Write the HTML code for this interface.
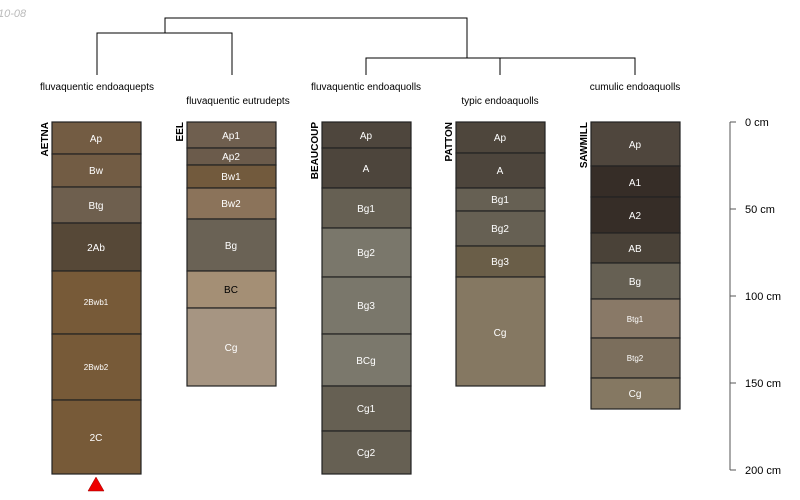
<!DOCTYPE html>
<html><head><meta charset="utf-8"><style>
html,body{margin:0;padding:0;background:#fff;width:800px;height:500px;overflow:hidden}
svg{display:block;font-family:"Liberation Sans",sans-serif}
</style></head><body>
<svg width="800" height="500" viewBox="0 0 800 500" xmlns="http://www.w3.org/2000/svg">
<text x="-2" y="17" font-size="11" fill="#bbb" font-style="italic">10-08</text>
<g stroke="#000" stroke-width="1" fill="none">
<polyline points="165,33 165,18 467,18 467,58"/>
<polyline points="97,75 97,33 232,33 232,75"/>
<polyline points="366,75 366,58 635,58 635,75"/>
<line x1="500" y1="58" x2="500" y2="75"/>
</g>
<g font-size="10" fill="#000">
<text x="97" y="90" text-anchor="middle">fluvaquentic endoaquepts</text>
<text x="238" y="104" text-anchor="middle">fluvaquentic eutrudepts</text>
<text x="366" y="90" text-anchor="middle">fluvaquentic endoaquolls</text>
<text x="500" y="104" text-anchor="middle">typic endoaquolls</text>
<text x="635" y="90" text-anchor="middle">cumulic endoaquolls</text>
</g>
<g font-size="10" font-weight="bold" fill="#000">
<text transform="translate(48,122) rotate(-90)" text-anchor="end">AETNA</text>
<text transform="translate(183,122) rotate(-90)" text-anchor="end">EEL</text>
<text transform="translate(318,122) rotate(-90)" text-anchor="end">BEAUCOUP</text>
<text transform="translate(452,122) rotate(-90)" text-anchor="end">PATTON</text>
<text transform="translate(587,122) rotate(-90)" text-anchor="end">SAWMILL</text>
</g>
<g stroke="#222" stroke-width="1.2" font-size="10" text-anchor="middle">
<!-- AETNA x52 w89 -->
<rect x="52" y="122" width="89" height="32" fill="#735c43"/>
<rect x="52" y="154" width="89" height="33" fill="#725c44"/>
<rect x="52" y="187" width="89" height="36" fill="#6e5f4e"/>
<rect x="52" y="223" width="89" height="48" fill="#564837"/>
<rect x="52" y="271" width="89" height="63" fill="#775a38"/>
<rect x="52" y="334" width="89" height="66" fill="#775a38"/>
<rect x="52" y="400" width="89" height="74" fill="#775a38"/>
<!-- EEL -->
<rect x="187" y="122" width="89" height="26" fill="#6f5f4f"/>
<rect x="187" y="148" width="89" height="17" fill="#6b5b4b"/>
<rect x="187" y="165" width="89" height="23" fill="#725a3d"/>
<rect x="187" y="188" width="89" height="31" fill="#8b735a"/>
<rect x="187" y="219" width="89" height="52" fill="#6a6255"/>
<rect x="187" y="271" width="89" height="37" fill="#a48f75"/>
<rect x="187" y="308" width="89" height="78" fill="#a69582"/>
<!-- BEAUCOUP -->
<rect x="322" y="122" width="89" height="26" fill="#4e463d"/>
<rect x="322" y="148" width="89" height="40" fill="#4d453c"/>
<rect x="322" y="188" width="89" height="40" fill="#666053"/>
<rect x="322" y="228" width="89" height="49" fill="#7a776b"/>
<rect x="322" y="277" width="89" height="57" fill="#7a776b"/>
<rect x="322" y="334" width="89" height="52" fill="#7b786c"/>
<rect x="322" y="386" width="89" height="45" fill="#666053"/>
<rect x="322" y="431" width="89" height="43" fill="#666053"/>
<!-- PATTON -->
<rect x="456" y="122" width="89" height="31" fill="#4e463c"/>
<rect x="456" y="153" width="89" height="35" fill="#4d453c"/>
<rect x="456" y="188" width="89" height="23" fill="#666053"/>
<rect x="456" y="211" width="89" height="35" fill="#666053"/>
<rect x="456" y="246" width="89" height="31" fill="#6a5e48"/>
<rect x="456" y="277" width="89" height="109" fill="#857862"/>
<!-- SAWMILL -->
<rect x="591" y="122" width="89" height="44" fill="#4f463d"/>
<rect x="591" y="166" width="89" height="31" fill="#362d27"/>
<rect x="591" y="197" width="89" height="36" fill="#362d27"/>
<rect x="591" y="233" width="89" height="30" fill="#4a4238"/>
<rect x="591" y="263" width="89" height="36" fill="#666053"/>
<rect x="591" y="299" width="89" height="39" fill="#897967"/>
<rect x="591" y="338" width="89" height="40" fill="#7b6e5c"/>
<rect x="591" y="378" width="89" height="31" fill="#857862"/>
</g>
<g font-size="10" text-anchor="middle" fill="#fff">
<text x="96" y="142">Ap</text><text x="96" y="174">Bw</text><text x="96" y="209">Btg</text><text x="96" y="251">2Ab</text>
<text x="96" y="305" font-size="8">2Bwb1</text><text x="96" y="370" font-size="8">2Bwb2</text><text x="96" y="441">2C</text>
<text x="231" y="139">Ap1</text><text x="231" y="160">Ap2</text><text x="231" y="180">Bw1</text><text x="231" y="207">Bw2</text>
<text x="231" y="249">Bg</text><text x="231" y="293" fill="#000">BC</text><text x="231" y="351">Cg</text>
<text x="366" y="139">Ap</text><text x="366" y="172">A</text><text x="366" y="212">Bg1</text><text x="366" y="256">Bg2</text>
<text x="366" y="309">Bg3</text><text x="366" y="364">BCg</text><text x="366" y="412">Cg1</text><text x="366" y="456">Cg2</text>
<text x="500" y="141">Ap</text><text x="500" y="174">A</text><text x="500" y="203">Bg1</text><text x="500" y="232">Bg2</text>
<text x="500" y="265">Bg3</text><text x="500" y="336">Cg</text>
<text x="635" y="148">Ap</text><text x="635" y="186">A1</text><text x="635" y="219">A2</text><text x="635" y="252">AB</text>
<text x="635" y="285">Bg</text><text x="635" y="322" font-size="8">Btg1</text><text x="635" y="361" font-size="8">Btg2</text><text x="635" y="397">Cg</text>
</g>
<polygon points="96,477 88,491 104,491" fill="#e00" stroke="#900" stroke-width="0.5"/>
<g stroke="#555" stroke-width="1">
<line x1="730" y1="122" x2="730" y2="470"/>
<line x1="730" y1="122" x2="736" y2="122"/><line x1="730" y1="209" x2="736" y2="209"/>
<line x1="730" y1="296" x2="736" y2="296"/><line x1="730" y1="383" x2="736" y2="383"/>
<line x1="730" y1="470" x2="736" y2="470"/>
</g>
<g font-size="11" fill="#000">
<text x="745" y="126">0 cm</text><text x="745" y="213">50 cm</text><text x="745" y="300">100 cm</text>
<text x="745" y="387">150 cm</text><text x="745" y="474">200 cm</text>
</g>
</svg>
</body></html>
